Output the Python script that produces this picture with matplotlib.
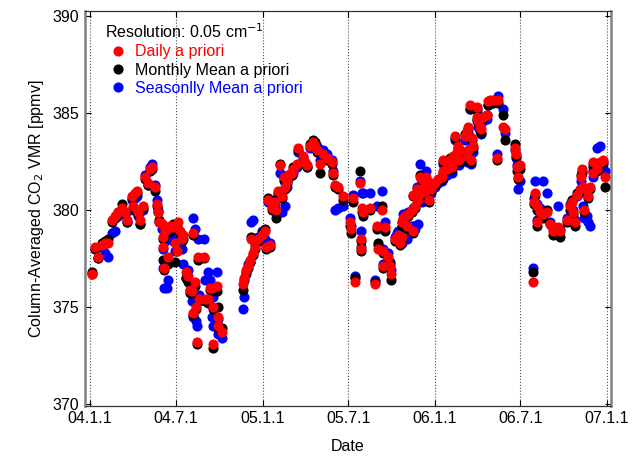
import matplotlib
matplotlib.use('Agg')
import matplotlib.pyplot as plt
import matplotlib.dates as mdates
import pandas as pd
from matplotlib.lines import Line2D

plt.rcParams['font.family'] = ['Liberation Sans', 'DejaVu Sans']

# observation dates (FTS retrievals)
dates = [
    # 2004
    '2004-01-05', '2004-01-12', '2004-01-18', '2004-01-26', '2004-02-02', '2004-02-08',
    '2004-02-17', '2004-02-23', '2004-02-29', '2004-03-09', '2004-03-15', '2004-03-19',
    '2004-03-30', '2004-04-01', '2004-04-05', '2004-04-10', '2004-04-12', '2004-04-16',
    '2004-04-22', '2004-04-27', '2004-05-03', '2004-05-07', '2004-05-11', '2004-05-18',
    '2004-05-22', '2004-05-24', '2004-05-26', '2004-06-02', '2004-06-03', '2004-06-04',
    '2004-06-05', '2004-06-08', '2004-06-12', '2004-06-14', '2004-06-19', '2004-06-25',
    '2004-06-29', '2004-07-03', '2004-07-06', '2004-07-10', '2004-07-13', '2004-07-16',
    '2004-07-22', '2004-07-27', '2004-07-30', '2004-08-04', '2004-08-05', '2004-08-06',
    '2004-08-11', '2004-08-12', '2004-08-15', '2004-08-17', '2004-08-18', '2004-08-30',
    '2004-09-01', '2004-09-07', '2004-09-11', '2004-09-16', '2004-09-17', '2004-09-18',
    '2004-09-26', '2004-09-28', '2004-09-29', '2004-10-07',
    '2004-11-20', '2004-11-23', '2004-11-27', '2004-12-01', '2004-12-05', '2004-12-06',
    '2004-12-11', '2004-12-16', '2004-12-22', '2004-12-31',
    # 2005
    '2005-01-06', '2005-01-08', '2005-01-12', '2005-01-17', '2005-01-21', '2005-01-27',
    '2005-01-30', '2005-02-03', '2005-02-07', '2005-02-11', '2005-02-14', '2005-02-17',
    '2005-02-22', '2005-02-24', '2005-03-04', '2005-03-06', '2005-03-15', '2005-03-16',
    '2005-03-28', '2005-04-01', '2005-04-05', '2005-04-11', '2005-04-18', '2005-04-22',
    '2005-04-26', '2005-05-03', '2005-05-09', '2005-05-17', '2005-05-28', '2005-05-29',
    '2005-06-03', '2005-06-10', '2005-06-20', '2005-07-05', '2005-07-07', '2005-07-12',
    '2005-07-16', '2005-07-26', '2005-07-28', '2005-07-29', '2005-07-31', '2005-08-02',
    '2005-08-17', '2005-08-27', '2005-08-31', '2005-09-03', '2005-09-11', '2005-09-12',
    '2005-09-13', '2005-09-17', '2005-09-24', '2005-09-28', '2005-09-29', '2005-10-09',
    '2005-10-13', '2005-10-15', '2005-10-19', '2005-10-23', '2005-10-24', '2005-10-26',
    '2005-10-30', '2005-11-03', '2005-11-05', '2005-11-14', '2005-11-15', '2005-11-16',
    '2005-11-20', '2005-11-24', '2005-11-26', '2005-12-01', '2005-12-04', '2005-12-05',
    '2005-12-10', '2005-12-11', '2005-12-14', '2005-12-18', '2005-12-20', '2005-12-24',
    '2005-12-26',
    # 2006
    '2006-01-01', '2006-01-08', '2006-01-16', '2006-01-17', '2006-01-18', '2006-01-27',
    '2006-01-29', '2006-02-02', '2006-02-06', '2006-02-09', '2006-02-13', '2006-02-17',
    '2006-02-19', '2006-02-20', '2006-02-23', '2006-03-06', '2006-03-09', '2006-03-10',
    '2006-03-12', '2006-03-13', '2006-03-17', '2006-03-18', '2006-03-21', '2006-03-23',
    '2006-03-31', '2006-04-01', '2006-04-03', '2006-04-07', '2006-04-08', '2006-04-13',
    '2006-04-22', '2006-04-23', '2006-04-28', '2006-05-04', '2006-05-13', '2006-05-15',
    '2006-05-26', '2006-05-30', '2006-06-20', '2006-06-21', '2006-06-24', '2006-06-26',
    '2006-07-01', '2006-07-28', '2006-07-30', '2006-08-01', '2006-08-05', '2006-08-06',
    '2006-08-12', '2006-08-18', '2006-08-27', '2006-09-02', '2006-09-09', '2006-09-19',
    '2006-09-23', '2006-10-08', '2006-10-15', '2006-10-19', '2006-10-21', '2006-10-25',
    '2006-10-29', '2006-11-05', '2006-11-06', '2006-11-09', '2006-11-11', '2006-11-12',
    '2006-11-20', '2006-11-22', '2006-11-26', '2006-12-02', '2006-12-03', '2006-12-11',
    '2006-12-17', '2006-12-24', '2006-12-28',
]

# column-averaged CO2 [ppmv] retrieved with the daily a priori
daily = [
    376.7, 378.1, 377.6, 378.2, 378.3, 378.3,
    379.5, 379.7, 379.9, 380.1, 379.9, 379.5,
    380.7, 380.2, 380.9, 381.0, 379.9, 379.5,
    380.2, 381.7, 381.4, 382.1, 382.2, 381.2,
    380.3, 379.9, 379.4, 379.3, 378.6, 378.1,
    377.0, 378.9, 379.0, 377.6, 379.2, 379.1,
    378.3, 377.9, 379.4, 378.9, 378.5, 378.7,
    376.8, 376.6, 375.9, 375.8, 374.7, 378.8,
    376.3, 375.0, 373.2, 377.6, 375.4, 377.6,
    375.4, 375.4, 376.0, 376.0, 373.1, 375.0,
    376.1, 374.5, 374.0, 373.7,
    376.2, 376.5, 376.9, 377.1, 377.4, 378.5,
    377.8, 378.1, 378.5, 378.7,
    378.9, 378.1, 380.5, 378.2, 380.1, 380.4,
    380.0, 381.0, 382.3, 380.7, 381.7, 381.2,
    381.5, 381.8, 381.9, 382.1, 382.4, 383.2,
    382.8, 382.5, 382.3, 383.3, 383.5, 383.3,
    383.1, 382.4, 382.9, 382.7, 382.5, 381.9,
    381.3, 381.2, 380.7, 379.4, 379.0, 380.6,
    376.3, 381.4, 378.5, 378.0, 380.1, 379.9,
    380.1, 376.2, 379.2, 378.0, 380.0, 377.9,
    377.1, 379.1, 377.6, 377.1, 376.7, 378.5,
    378.6, 378.7, 378.3, 379.4, 378.6, 379.6,
    379.7, 379.2, 379.8, 380.0, 378.9, 380.8,
    380.2, 381.1, 380.5, 381.7, 381.6, 380.9,
    381.3, 381.0, 381.7, 381.2, 380.5, 381.1,
    381.4,
    381.4, 381.6, 381.7, 382.6, 382.0, 382.1,
    382.4, 382.6, 382.2, 382.8, 383.8, 383.0,
    383.3, 382.6, 383.1, 383.8, 382.8, 384.1,
    384.3, 383.1, 385.4, 382.6, 383.7, 383.3,
    385.3, 384.8, 384.6, 384.3, 384.2, 384.8,
    384.9, 385.6, 385.7, 385.7, 382.7, 385.7,
    384.3, 384.2, 383.2, 382.9, 382.2, 381.7,
    382.3, 376.3, 380.4, 380.9, 379.4, 380.2,
    379.9, 379.8, 379.9, 379.3, 378.9, 379.1,
    378.9, 379.5, 380.2, 380.4, 379.9, 379.4,
    380.8, 381.1, 381.7, 382.1, 381.2, 380.0,
    381.1, 380.7, 381.2, 381.9, 382.5, 382.1,
    382.5, 382.6, 381.7,
]

# same retrieval with the monthly mean a priori
monthly = [
    376.8, 378.0, 377.5, 378.3, 378.4, 378.5,
    379.4, 379.6, 379.9, 380.3, 379.8, 379.4,
    380.6, 380.1, 380.8, 380.9, 379.8, 379.3,
    380.1, 381.6, 381.3, 382.0, 382.1, 381.0,
    380.2, 379.9, 379.5, 379.3, 378.5, 377.4,
    376.9, 379.1, 378.8, 377.2, 378.9, 379.3,
    377.3, 377.9, 379.0, 378.8, 378.4, 378.5,
    376.5, 376.3, 375.7, 375.7, 374.6, 378.7,
    376.1, 374.9, 373.1, 377.4, 375.3, 377.5,
    375.3, 375.2, 375.9, 375.8, 372.9, 374.9,
    375.8, 375.0, 373.9, 373.9,
    375.9, 376.4, 376.8, 377.0, 377.3, 378.6,
    377.7, 378.0, 378.4, 378.8,
    379.0, 378.0, 380.6, 378.1, 380.0, 380.3,
    379.6, 380.9, 382.4, 380.6, 381.6, 381.1,
    381.4, 381.8, 381.8, 382.2, 382.3, 383.1,
    382.7, 382.4, 382.2, 383.4, 383.6, 383.5,
    383.0, 381.9, 382.8, 382.6, 382.4, 381.8,
    381.2, 381.1, 380.5, 379.2, 378.8, 380.4,
    376.5, 382.0, 378.4, 377.9, 379.9, 379.7,
    380.0, 376.3, 379.0, 378.3, 380.2, 377.8,
    377.0, 378.9, 377.4, 377.2, 376.4, 378.4,
    378.5, 378.6, 378.2, 379.2, 378.5, 379.5,
    379.6, 379.0, 379.7, 379.9, 378.8, 380.7,
    380.1, 380.9, 380.4, 381.8, 381.5, 380.8,
    381.2, 380.9, 381.6, 381.1, 380.4, 381.0,
    381.3,
    381.3, 381.5, 381.6, 382.5, 381.9, 382.0,
    382.3, 382.7, 382.1, 382.7, 383.7, 382.9,
    383.2, 382.5, 383.0, 383.9, 382.6, 384.0,
    384.2, 383.0, 385.2, 382.5, 383.6, 383.2,
    385.2, 384.7, 384.5, 384.2, 384.0, 384.7,
    384.9, 385.4, 385.6, 385.5, 382.6, 385.5,
    384.9, 383.6, 383.4, 382.8, 382.0, 381.6,
    382.1, 376.8, 380.3, 380.8, 379.2, 380.0,
    379.8, 379.6, 380.0, 379.3, 378.7, 379.0,
    378.6, 379.4, 380.0, 380.5, 379.8, 379.2,
    380.9, 381.0, 381.8, 382.0, 381.1, 379.9,
    380.9, 380.6, 381.1, 382.0, 382.4, 382.0,
    382.3, 382.5, 381.2,
]

# same retrieval with the seasonal mean a priori
seasonal = [
    376.7, 378.0, 377.5, 378.1, 377.8, 377.6,
    378.8, 378.9, 379.7, 380.0, 379.8, 379.4,
    380.5, 380.0, 380.6, 380.7, 379.7, 379.3,
    380.0, 381.8, 381.3, 382.2, 382.4, 381.3,
    380.5, 380.0, 379.4, 379.0, 378.0, 377.0,
    376.0, 378.4, 376.0, 376.4, 378.6, 378.4,
    377.9, 378.6, 378.9, 378.3, 378.0, 377.2,
    376.5, 376.9, 375.9, 375.3, 374.5, 379.6,
    379.0, 374.3, 374.0, 378.5, 375.6, 378.5,
    376.4, 376.8, 376.4, 374.5, 374.0, 375.5,
    376.8, 374.4, 373.6, 373.4,
    374.9, 375.5, 376.7, 377.2, 377.3, 379.4,
    379.5, 378.2, 378.6, 378.9,
    378.5, 378.2, 380.4, 378.3, 380.2, 380.5,
    379.9, 380.8, 381.9, 379.9, 381.5, 380.2,
    381.2, 381.6, 381.8, 381.9, 382.2, 383.0,
    382.6, 382.4, 382.2, 383.2, 383.4, 383.2,
    383.3, 382.6, 383.1, 382.9, 382.6, 382.0,
    380.0, 380.1, 380.2, 379.6, 379.2, 380.8,
    376.6, 381.5, 378.9, 378.1, 380.9, 380.9,
    380.9, 376.4, 380.2, 378.2, 381.0, 378.0,
    377.2, 379.4, 377.8, 377.3, 376.9, 378.6,
    378.8, 378.9, 378.5, 379.4, 378.3, 379.8,
    379.5, 378.5, 379.9, 379.2, 379.2, 380.1,
    379.0, 381.2, 379.3, 382.4, 381.4, 380.4,
    381.1, 380.6, 382.0, 381.0, 380.7, 380.9,
    381.2,
    381.2, 381.4, 381.5, 382.4, 381.6, 381.8,
    382.1, 382.4, 381.9, 382.5, 383.6, 382.8,
    383.0, 382.3, 382.9, 383.6, 382.5, 383.9,
    384.0, 382.8, 385.2, 382.4, 383.4, 383.0,
    385.1, 384.6, 384.3, 384.1, 383.9, 384.6,
    384.7, 385.4, 385.5, 385.6, 382.9, 385.9,
    385.2, 384.0, 383.1, 382.7, 382.3, 381.1,
    381.5, 377.0, 380.6, 381.5, 379.5, 380.3,
    380.1, 381.5, 380.9, 379.4, 379.0, 380.2,
    379.0, 379.6, 380.3, 380.5, 380.0, 379.5,
    380.7, 380.9, 381.5, 381.9, 380.2, 379.6,
    379.7, 379.4, 379.2, 381.7, 382.2, 383.2,
    383.3, 382.4, 382.0,
]

x = pd.to_datetime(dates)

fig = plt.figure(figsize=(6.39, 4.57), dpi=100)
ax = fig.add_axes([0.133, 0.112, 0.823, 0.864])

ms = 7.3
ax.plot(x, seasonal, 'o', color='#0000ff', ms=ms, mec='none', zorder=3)
ax.plot(x, monthly, 'o', color='black', ms=ms, mec='none', zorder=4)
ax.plot(x, daily, 'o', color='#ff0000', ms=ms, mec='none', zorder=5)

ax.set_xlim(pd.Timestamp('2003-12-21'), pd.Timestamp('2007-01-09'))
ax.set_ylim(369.9, 390.27)
ax.set_yticks([370, 375, 380, 385, 390])

ax.xaxis.set_major_locator(mdates.MonthLocator(bymonth=[1, 7]))
ax.xaxis.set_major_formatter(
    plt.FuncFormatter(lambda v, p: '{:02d}.{}.{}'.format(
        mdates.num2date(v).year % 100, mdates.num2date(v).month, mdates.num2date(v).day)))

ax.grid(True, axis='x', color='0.3', linestyle=':', linewidth=0.8)
ax.set_axisbelow(True)

ax.tick_params(direction='in', length=4, top=True, right=True, labelsize=11.5,
               width=0.8, pad=4)
for side in ['left', 'right']:
    ax.spines[side].set_color('0.5')
    ax.spines[side].set_linewidth(1.8)
for side in ['top', 'bottom']:
    ax.spines[side].set_color('0.2')
    ax.spines[side].set_linewidth(0.9)

ax.set_xlabel('Date', fontsize=11.5, labelpad=9)
ax.set_ylabel('Column-Averaged CO$_2$ VMR [ppmv]', fontsize=11.5, labelpad=5)

handles = [
    Line2D([], [], marker='o', color='#ff0000', ls='none', ms=ms, mec='none'),
    Line2D([], [], marker='o', color='black', ls='none', ms=ms, mec='none'),
    Line2D([], [], marker='o', color='#0000ff', ls='none', ms=ms, mec='none'),
]
labels = ['Daily a priori', 'Monthly Mean a priori', 'Seasonlly Mean a priori']
leg = ax.legend(handles, labels, loc='upper left', bbox_to_anchor=(0.02, 0.995),
                frameon=False, fontsize=11.5, title='Resolution: 0.05 cm$^{-1}$',
                title_fontsize=11.5, handletextpad=0.3, handlelength=1.6,
                labelspacing=0.2, borderaxespad=0.2,
                labelcolor=['#ff0000', 'black', '#0000ff'])
leg._legend_box.align = 'left'

fig.savefig('out.png', dpi=100)
